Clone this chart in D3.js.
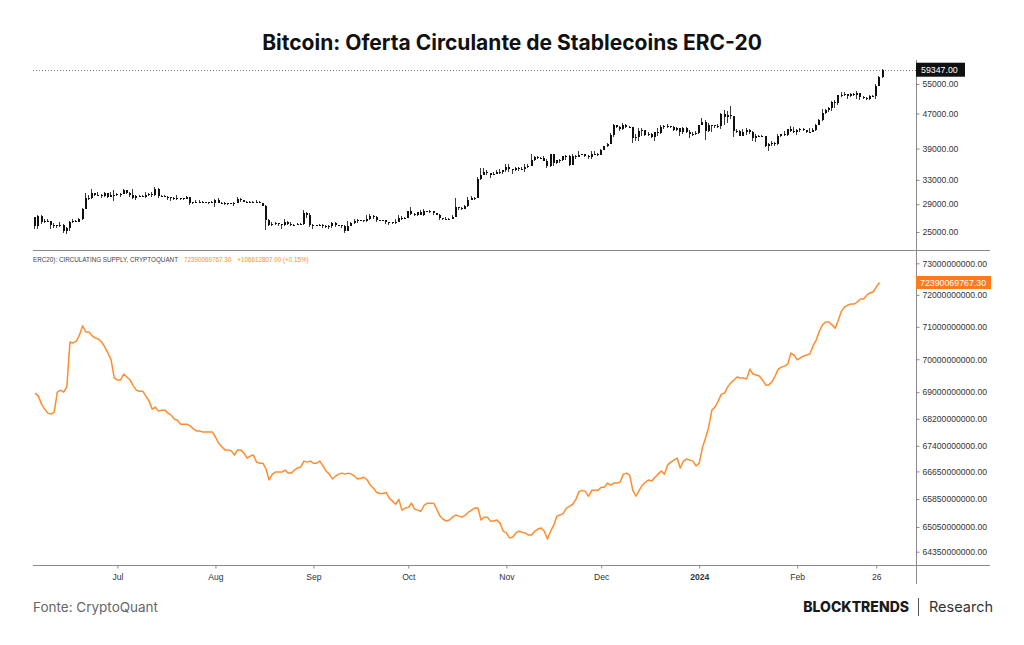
<!DOCTYPE html>
<html>
<head>
<meta charset="utf-8">
<script src="https://cdn.jsdelivr.net/npm/d3@7"></script>
<style>
  body { margin: 0; background: #fff; }
  svg { display: block; }
</style>
</head>
<body>
<div id="canvas"></div>
<script>
"use strict";

// Canvas
let svgWidth = 1024;
let svgHeight = 645;
let plotLeft = 33, plotRight = 916, axisRight = 990;
let topPane = { top: 60, bottom: 250 };
let botPane = { top: 250, bottom: 565 };

// Data: BTC daily candles, Jun 5 2023 -> Feb 28 2024 (thousands USD)
let firstOpen = 27.1;
let btcClose = [
  // Jun
  25.8,27.2,26.3,26.5,26.5,25.9,25.9,25.9,25.9,25.1,25.6,26.3,26.5,26.3,26.8,28.3,30.0,29.9,30.7,30.5,30.5,30.3,30.7,30.1,30.4,30.5,
  // Jul
  30.6,30.6,31.2,30.8,30.5,29.9,30.3,30.3,30.2,30.4,30.6,30.4,31.5,30.3,30.3,30.2,30.1,29.9,29.8,29.9,29.9,29.8,30.1,29.2,29.4,29.2,29.3,29.3,29.3,29.3,29.2,
  // Aug
  29.7,29.2,29.2,29.1,29.1,29.1,29.2,29.8,29.6,29.4,29.4,29.4,29.3,29.4,29.2,28.7,26.6,26.0,26.1,26.2,26.1,26.0,26.4,26.1,26.0,26.0,26.1,26.1,27.7,27.3,26.0,
  // Sep
  25.9,25.9,26.0,25.8,25.8,25.8,26.2,25.9,25.9,25.8,25.2,25.8,26.2,26.5,26.6,26.6,26.5,26.8,27.2,27.1,26.6,26.6,26.6,26.3,26.3,26.2,26.4,27.0,26.9,27.0,
  // Oct
  28.0,27.5,27.4,27.8,27.4,27.9,27.95,27.9,27.6,27.4,26.9,26.75,26.85,26.85,27.15,28.5,28.4,28.3,28.7,29.7,30.0,30.0,33.1,33.9,34.5,34.2,33.9,34.1,34.5,34.5,34.7,
  // Nov
  35.4,34.9,34.7,35.1,35.0,35.0,35.4,35.6,36.7,37.3,37.1,37.1,36.5,35.5,37.9,36.2,36.6,36.6,37.4,37.5,35.8,37.4,37.3,37.7,37.8,37.5,37.2,37.8,37.85,37.7,
  // Dec
  38.7,39.5,39.97,41.99,44.1,43.8,43.3,44.2,43.7,43.8,41.2,41.5,42.9,43.0,41.9,42.25,41.4,42.6,42.3,43.65,43.9,44.0,43.7,43.0,43.6,42.5,43.4,42.6,42.1,42.1,42.3,
  // Jan
  44.2,44.95,42.8,44.2,44.2,43.9,43.95,46.95,46.1,46.6,46.3,42.8,42.9,41.7,42.5,43.1,42.7,41.3,41.6,41.7,41.6,39.5,39.85,40.1,39.9,41.8,42.1,42.0,43.3,42.9,42.6,
  // Feb
  43.1,43.2,43.0,42.6,42.7,43.1,44.3,45.3,47.1,47.8,48.3,50.0,49.7,51.8,52.0,52.1,51.6,52.1,51.8,52.3,51.3,51.0,50.7,51.6,51.7,54.5,57.0,59.347
];
let btcHigh = [
  27.1,27.3,27.4,26.8,26.8,26.5,26.2,26.0,26.4,26.1,25.7,26.5,26.8,26.7,27.0,28.4,30.8,30.5,31.4,30.8,31.0,30.6,31.0,30.7,31.0,31.3,
  30.7,30.8,31.4,31.3,30.9,31.5,30.4,30.4,30.4,31.0,30.8,30.9,31.8,31.6,30.4,30.4,30.3,30.2,30.2,30.4,30.0,30.0,30.3,30.1,29.4,29.7,29.6,29.5,29.4,29.4,29.5,
  29.8,30.0,29.4,29.3,29.1,29.2,29.3,30.1,30.0,29.7,29.5,29.5,29.5,29.7,29.5,29.2,28.8,26.8,26.3,26.3,26.2,26.1,26.8,26.5,26.3,26.1,26.2,26.2,28.1,27.8,27.6,
  26.1,26.0,26.1,26.1,25.9,26.0,26.4,26.4,25.9,26.0,25.9,26.5,26.4,26.8,26.8,26.7,26.6,27.4,27.5,27.4,27.2,26.7,26.6,26.7,26.4,26.4,26.8,27.3,27.2,27.1,
  28.0,28.6,27.7,27.8,28.1,28.3,28.0,28.1,27.9,27.7,27.5,26.9,27.1,26.95,27.3,30.0,28.6,28.5,28.9,30.2,30.3,30.2,33.6,35.2,35.1,34.8,34.3,34.4,34.8,34.9,34.7,
  35.9,35.9,34.9,35.3,35.4,35.3,35.9,36.0,37.9,37.5,37.4,37.2,37.4,36.8,37.9,37.9,36.7,36.8,37.5,37.7,37.6,37.8,37.6,38.4,37.9,37.8,37.6,38.4,38.4,38.1,
  38.9,39.6,40.2,42.4,44.4,44.3,44.0,44.7,44.4,44.0,43.8,42.1,43.4,43.4,43.1,42.7,42.4,42.7,43.4,44.3,44.2,44.4,44.0,43.9,43.8,43.6,43.7,43.8,43.1,42.6,42.9,
  44.2,45.9,45.5,44.8,44.3,44.2,44.5,47.2,47.9,47.7,48.9,46.5,43.3,43.0,43.3,43.6,43.2,42.9,42.2,41.9,41.9,41.7,40.1,40.5,40.3,42.2,42.2,42.8,43.3,43.9,43.7,
  43.3,43.5,43.4,43.1,43.5,43.4,44.4,45.6,48.2,48.1,48.6,50.3,50.4,52.0,52.8,52.6,52.2,52.4,52.5,52.9,52.4,51.6,51.4,51.9,51.9,54.9,57.5,59.5
];
let btcLow = [
  25.4,25.4,26.1,26.2,26.3,25.4,25.6,25.6,25.7,24.9,24.8,25.2,26.2,26.3,26.3,26.6,28.3,29.6,29.8,30.3,30.3,29.9,30.2,29.9,30.1,29.5,
  30.3,30.2,30.6,30.6,30.2,29.8,29.7,30.1,30.1,29.9,30.3,30.2,30.3,29.9,30.2,30.1,29.7,29.5,29.7,29.6,29.7,29.6,29.8,28.9,29.0,29.1,29.1,29.1,29.3,29.0,29.1,
  28.6,29.1,29.1,28.8,28.9,29.0,28.7,29.1,29.4,29.3,29.3,29.4,29.3,29.1,29.1,28.7,25.3,25.8,25.8,26.0,25.8,25.4,25.8,25.9,25.8,26.0,26.0,25.9,25.9,27.0,25.7,
  25.4,25.8,25.8,25.6,25.6,25.4,25.6,25.7,25.8,25.6,24.9,25.1,25.8,26.1,26.2,26.5,26.4,26.4,26.7,26.8,26.4,26.5,26.5,26.1,26.0,26.1,26.1,26.3,26.7,26.9,
  26.95,27.3,27.2,27.2,27.3,27.2,27.85,27.7,27.3,27.3,26.6,26.6,26.7,26.8,26.8,27.1,28.1,28.1,28.2,28.6,29.7,29.7,29.9,32.9,33.8,33.8,33.4,33.9,34.0,34.1,34.1,
  34.4,34.4,34.1,34.6,34.6,34.7,34.5,35.1,35.6,36.4,36.8,36.8,36.4,35.1,35.4,35.6,35.9,36.2,36.5,36.7,35.6,35.8,36.9,37.2,37.6,37.2,36.8,36.9,37.6,37.5,
  37.6,38.6,39.3,39.9,41.4,43.4,42.8,43.1,43.6,43.6,40.2,40.7,40.7,41.7,41.7,41.7,41.3,40.6,41.8,42.2,43.3,43.4,43.6,42.8,42.9,41.6,42.1,42.3,41.3,41.6,41.9,
  42.2,44.2,40.8,42.6,42.5,43.4,43.6,43.2,44.3,44.7,45.6,41.5,42.4,41.7,41.7,42.0,42.2,40.7,40.3,41.5,41.5,39.4,38.5,39.5,39.5,39.8,41.4,41.6,41.8,42.7,42.3,
  41.9,42.6,42.9,42.3,42.5,42.6,42.8,44.3,45.2,46.9,47.5,47.7,48.3,49.3,51.4,51.6,50.7,51.2,51.7,50.8,50.6,50.9,50.6,50.5,51.3,50.9,54.4,56.7
];

// ERC-20 stablecoin circulating supply, billions USD, Jun 5 2023 -> Feb 27 2024
let supply = [
  68.97,68.88,68.64,68.49,68.37,68.34,68.40,69.00,69.06,69.00,69.16,70.53,70.50,70.56,70.75,71.03,70.84,70.84,70.72,70.66,
  70.62,70.53,70.38,70.19,69.98,69.43,69.37,69.37,69.55,69.46,69.37,69.19,69.06,69.03,69.03,68.88,68.73,68.49,68.55,68.43,
  68.46,68.46,68.37,68.31,68.19,68.16,68.04,68.04,68.04,67.99,67.90,67.84,67.84,67.81,67.81,67.81,67.81,67.66,67.48,67.37,
  67.28,67.28,67.25,67.13,67.28,67.28,67.19,67.04,67.10,67.13,66.92,66.89,66.89,66.72,66.40,66.57,66.63,66.63,66.63,66.69,
  66.60,66.60,66.69,66.75,66.78,66.95,66.92,66.95,66.89,66.89,66.95,66.81,66.66,66.57,66.43,66.51,66.57,66.60,66.57,66.60,
  66.57,66.51,66.43,66.45,66.48,66.40,66.25,66.16,66.04,66.01,66.01,66.04,65.87,65.79,65.70,65.84,65.53,65.59,65.61,65.73,
  65.56,65.53,65.50,65.67,65.73,65.73,65.73,65.56,65.36,65.27,65.22,65.25,65.33,65.39,65.36,65.33,65.39,65.47,65.53,65.59,
  65.59,65.25,65.33,65.33,65.22,65.22,65.25,65.16,64.93,64.88,64.74,64.76,64.88,64.93,64.90,64.88,64.82,64.82,64.93,64.99,
  65.02,64.93,64.71,64.93,65.10,65.36,65.39,65.44,65.59,65.64,65.70,65.84,66.07,66.10,66.07,65.93,66.10,66.10,66.10,66.19,
  66.19,66.31,66.25,66.31,66.31,66.34,66.57,66.60,66.54,66.10,65.93,66.10,66.25,66.34,66.40,66.37,66.48,66.57,66.66,66.57,
  66.84,66.92,66.98,67.04,66.75,66.95,67.01,66.98,66.95,66.81,66.89,67.34,67.63,67.96,68.46,68.55,68.73,68.94,68.97,69.16,
  69.28,69.37,69.46,69.43,69.43,69.40,69.70,69.55,69.52,69.49,69.37,69.22,69.22,69.31,69.49,69.70,69.76,69.79,69.85,70.19,
  70.13,69.98,70.04,70.10,70.13,70.16,70.41,70.59,70.87,71.06,71.15,71.15,71.06,70.96,71.21,71.49,71.62,71.68,71.71,71.71,
  71.78,71.87,71.87,71.99,72.06,72.09,72.25,72.39006976730
];

// Ticks
let btcTicks = [25000, 29000, 33000, 39000, 47000, 55000];
let supplyTicks = [64.35, 65.05, 65.85, 66.65, 67.4, 68.2, 69, 70, 71, 72, 73];
let monthTicks = [
  { date: "2023-07-01", label: "Jul" }, { date: "2023-08-01", label: "Aug" },
  { date: "2023-09-01", label: "Sep" }, { date: "2023-10-01", label: "Oct" },
  { date: "2023-11-01", label: "Nov" }, { date: "2023-12-01", label: "Dec" },
  { date: "2024-01-01", label: "2024" }, { date: "2024-02-01", label: "Feb" },
  { date: "2024-02-26", label: "26" }
];
let lastPrice = 59347.00;
let lastSupplyText = "72390069767.30";
let legendChange = "+106612807.00 (+0.15%)";

let startMs = Date.UTC(2023, 5, 5);
function dayDate(i) { return new Date(startMs + i * 864e5); }

let candles = btcClose.map(function(c, i) {
  return {
    date: dayDate(i),
    open: (i === 0 ? firstOpen : btcClose[i - 1]) * 1000,
    close: c * 1000,
    high: btcHigh[i] * 1000,
    low: btcLow[i] * 1000
  };
});
let supplyData = supply.map(function(v, i) { return { date: dayDate(i), value: v }; });

// Scales
let xScale = d3.scaleUtc()
  .domain([dayDate(0), dayDate(268)])
  .range([35.2, 35.2 + 3.162 * 268]);
let yPrice = d3.scaleLog().domain([25000, 55000]).range([232, 84]);
let ySupply = d3.scaleLog().domain([64.35, 73]).range([551.7, 263.3]);

// SVG
let svg = d3.select("#canvas").append("svg")
  .attr("width", svgWidth).attr("height", svgHeight)
  .style("font-family", "'Liberation Sans', Arial, sans-serif");

let defs = svg.append("defs");
defs.append("clipPath").attr("id", "clipTop").append("rect")
  .attr("x", plotLeft).attr("y", topPane.top)
  .attr("width", plotRight - plotLeft).attr("height", topPane.bottom - topPane.top);
defs.append("clipPath").attr("id", "clipBot").append("rect")
  .attr("x", plotLeft).attr("y", botPane.top)
  .attr("width", plotRight - plotLeft).attr("height", botPane.bottom - botPane.top);

// Title
svg.append("text")
  .attr("x", 512).attr("y", 50)
  .attr("text-anchor", "middle")
  .style("font-family", "Inter, 'Open Sans', sans-serif")
  .style("font-weight", "700")
  .style("font-size", "21px")
  .attr("fill", "#111")
  .text("Bitcoin: Oferta Circulante de Stablecoins ERC-20");

// Frame lines
let frame = svg.append("g").attr("stroke", "#8a8a8a").attr("stroke-width", 1).attr("shape-rendering", "crispEdges");
frame.append("line").attr("x1", plotLeft).attr("x2", axisRight).attr("y1", 250.5).attr("y2", 250.5);
frame.append("line").attr("x1", plotLeft).attr("x2", axisRight).attr("y1", 565.5).attr("y2", 565.5);
frame.append("line").attr("x1", plotRight + 0.5).attr("x2", plotRight + 0.5).attr("y1", 60).attr("y2", 584);

// Last price dotted line
svg.append("line")
  .attr("x1", plotLeft).attr("x2", plotRight)
  .attr("y1", Math.round(yPrice(lastPrice)) + 0.5).attr("y2", Math.round(yPrice(lastPrice)) + 0.5)
  .attr("stroke", "#777").attr("stroke-width", 1).attr("stroke-dasharray", "1,2");

// Candles
let candleG = svg.append("g").attr("clip-path", "url(#clipTop)").attr("shape-rendering", "crispEdges");
candleG.selectAll("rect.wick").data(candles).enter().append("rect")
  .attr("class", "wick")
  .attr("x", function(d) { return Math.round(xScale(d.date)) - 1; })
  .attr("width", 1)
  .attr("y", function(d) { return yPrice(d.high); })
  .attr("height", function(d) { return Math.max(1, yPrice(d.low) - yPrice(d.high)); })
  .attr("fill", "#3a3a3a");
candleG.selectAll("rect.body").data(candles).enter().append("rect")
  .attr("class", "body")
  .attr("x", function(d) { return Math.round(xScale(d.date)) - 1; })
  .attr("width", 2)
  .attr("y", function(d) { return yPrice(Math.max(d.open, d.close)); })
  .attr("height", function(d) { return Math.max(1, Math.abs(yPrice(d.open) - yPrice(d.close))); })
  .attr("fill", "#111");

// Supply line
svg.append("path")
  .datum(supplyData)
  .attr("clip-path", "url(#clipBot)")
  .attr("fill", "none")
  .attr("stroke", "#ff8c2e")
  .attr("stroke-width", 1.5)
  .attr("stroke-linejoin", "round")
  .attr("d", d3.line()
    .x(function(d) { return xScale(d.date); })
    .y(function(d) { return ySupply(d.value); }));

// Right axes
let axisFont = "8.6px";
let priceAxis = svg.append("g").attr("transform", "translate(" + (plotRight + 0.5) + ",0)")
  .call(d3.axisRight(yPrice).tickValues(btcTicks).tickSize(3).tickPadding(3)
    .tickFormat(function(d) { return d3.format(".2f")(d); }));
let supplyAxis = svg.append("g").attr("transform", "translate(" + (plotRight + 0.5) + ",0)")
  .call(d3.axisRight(ySupply).tickValues(supplyTicks).tickSize(3).tickPadding(3)
    .tickFormat(function(d) { return Math.round(d * 1e9).toFixed(2); }));
[priceAxis, supplyAxis].forEach(function(a) {
  a.select(".domain").remove();
  a.selectAll(".tick line").attr("stroke", "#8a8a8a");
  a.selectAll(".tick text").attr("fill", "#333").style("font-size", axisFont)
    .style("font-family", "'Liberation Sans', Arial, sans-serif");
});

// Bottom axis
let timeAxis = svg.append("g").attr("transform", "translate(0,565.5)")
  .call(d3.axisBottom(xScale)
    .tickValues(monthTicks.map(function(t) { return new Date(t.date + "T00:00:00Z"); }))
    .tickSize(3).tickPadding(5)
    .tickFormat(function(d, i) { return monthTicks[i].label; }));
timeAxis.select(".domain").remove();
timeAxis.selectAll(".tick line").attr("stroke", "#8a8a8a");
timeAxis.selectAll(".tick text").attr("fill", "#333").style("font-size", axisFont)
  .style("font-family", "'Liberation Sans', Arial, sans-serif")
  .style("font-weight", function(d, i) { return monthTicks[i].label === "2024" ? "700" : "400"; });

// Last value tags
let priceTagY = yPrice(lastPrice);
svg.append("rect").attr("x", plotRight).attr("y", priceTagY - 7).attr("width", 49).attr("height", 14).attr("fill", "#111");
svg.append("text").attr("x", plotRight + 5).attr("y", priceTagY + 3.2)
  .attr("fill", "#fff").style("font-size", "8.8px").text(d3.format(".2f")(lastPrice));

let supplyTagY = ySupply(supply[supply.length - 1]);
svg.append("rect").attr("x", plotRight).attr("y", supplyTagY - 6.5).attr("width", 75).attr("height", 13).attr("fill", "#ff7a1a");
svg.append("text").attr("x", plotRight + 4).attr("y", supplyTagY + 3.2)
  .attr("fill", "#fff").style("font-size", "8.8px").text(lastSupplyText);

// Legend
let legend = svg.append("text").attr("x", plotLeft).attr("y", 261.5).style("font-size", "6.3px");
legend.append("tspan").attr("fill", "#444").text("ERC20): CIRCULATING SUPPLY, CRYPTOQUANT");
legend.append("tspan").attr("dx", 6).attr("fill", "#ff8c2e").text(lastSupplyText);
legend.append("tspan").attr("dx", 6).attr("fill", "#ff8c2e").text(legendChange);

// Footer
svg.append("text").attr("x", plotLeft).attr("y", 612)
  .style("font-family", "Inter, 'Open Sans', sans-serif").style("font-size", "13.5px")
  .attr("fill", "#666").text("Fonte: CryptoQuant");
svg.append("text").attr("x", 909).attr("y", 612).attr("text-anchor", "end")
  .style("font-family", "Inter, 'Open Sans', sans-serif").style("font-size", "14px").style("font-weight", "800")
  .attr("fill", "#1a1a1a").text("BLOCKTRENDS");
svg.append("line").attr("x1", 918.5).attr("x2", 918.5).attr("y1", 598).attr("y2", 616)
  .attr("stroke", "#555").attr("stroke-width", 1);
svg.append("text").attr("x", 929).attr("y", 612)
  .style("font-family", "Inter, 'Open Sans', sans-serif").style("font-size", "14.5px")
  .attr("fill", "#333").text("Research");
</script>
</body>
</html>
